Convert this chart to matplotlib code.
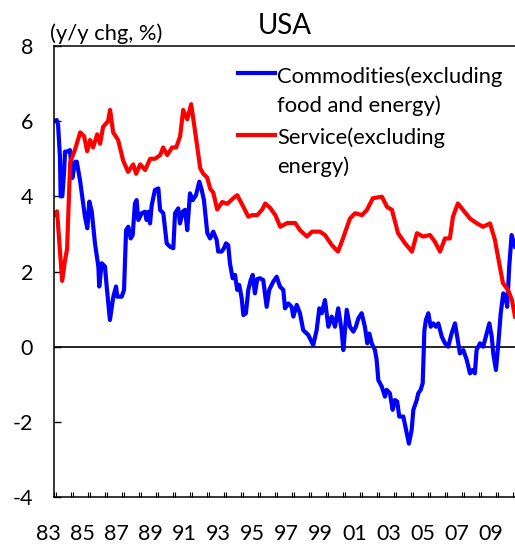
import matplotlib
matplotlib.use("Agg")
import matplotlib.pyplot as plt

plt.rcParams['font.family'] = ['Lato', 'DejaVu Sans']
plt.rcParams['axes.unicode_minus'] = False

# commodities (excluding food and energy), y/y %
comm_year = [1983.00, 1983.16, 1983.24, 1983.35, 1983.39, 1983.49, 1983.59, 1983.65, 1983.78, 1983.94,
             1984.08, 1984.24, 1984.34, 1984.53, 1984.82, 1984.96, 1985.08, 1985.22, 1985.41, 1985.61,
             1985.66, 1985.81, 1986.00, 1986.10, 1986.29, 1986.49, 1986.65, 1986.72, 1986.98, 1987.12,
             1987.24, 1987.37, 1987.51, 1987.63, 1987.76, 1987.86, 1987.96, 1988.16, 1988.35, 1988.45,
             1988.55, 1988.65, 1988.75, 1988.94, 1989.14, 1989.24, 1989.43, 1989.63, 1989.82, 1990.02,
             1990.12, 1990.31, 1990.41, 1990.57, 1990.71, 1990.84, 1991.00, 1991.16, 1991.35, 1991.55,
             1991.69, 1991.82, 1992.02, 1992.18, 1992.37, 1992.57, 1992.66, 1992.86, 1993.00, 1993.12,
             1993.25, 1993.35, 1993.51, 1993.65, 1993.78, 1993.90, 1994.04, 1994.14, 1994.29, 1994.43,
             1994.57, 1994.69, 1994.82, 1994.96, 1995.12, 1995.31, 1995.51, 1995.66, 1995.90, 1996.10,
             1996.29, 1996.49, 1996.59, 1996.78, 1996.98, 1997.08, 1997.28, 1997.47, 1997.66, 1997.96,
             1998.25, 1998.45, 1998.61, 1998.75, 1998.94, 1999.14, 1999.34, 1999.53, 1999.72, 1999.92,
             2000.02, 2000.22, 2000.41, 2000.61, 2000.76, 2000.90, 2001.10, 2001.29, 2001.43, 2001.55,
             2001.69, 2001.88, 2001.98, 2002.08, 2002.28, 2002.47, 2002.57, 2002.76, 2002.92, 2003.06,
             2003.19, 2003.31, 2003.55, 2003.75, 2003.88, 2004.04, 2004.14, 2004.34, 2004.43, 2004.57,
             2004.69, 2004.79, 2004.88, 2005.02, 2005.16, 2005.31, 2005.47, 2005.61, 2005.81, 2006.00,
             2006.19, 2006.39, 2006.59, 2006.88, 2007.08, 2007.28, 2007.47, 2007.63, 2007.76, 2007.86,
             2008.06, 2008.25, 2008.45, 2008.61, 2008.75, 2008.84, 2009.00, 2009.14, 2009.28, 2009.43,
             2009.59, 2009.66, 2009.78, 2009.92, 2010.12]
comm_val = [6.00, 6.03, 5.90, 5.05, 4.00, 4.00, 4.62, 5.19, 5.19, 5.23,
            4.49, 4.92, 4.92, 4.43, 3.46, 3.15, 3.86, 3.60, 2.75, 2.13,
            1.60, 2.22, 2.13, 1.60, 0.71, 1.33, 1.60, 1.33, 1.33, 1.51,
            3.10, 3.19, 2.88, 2.97, 3.81, 3.90, 3.37, 3.55, 3.59, 3.37,
            3.59, 3.28, 3.77, 4.17, 4.21, 3.64, 3.55, 2.75, 2.66, 2.62,
            3.55, 3.68, 3.28, 3.59, 3.64, 3.10, 4.08, 3.90, 4.03, 4.39,
            4.17, 3.90, 3.02, 2.88, 3.06, 2.84, 2.53, 2.53, 2.62, 2.75,
            2.70, 2.22, 1.82, 1.91, 1.51, 1.64, 1.29, 0.84, 0.89, 1.51,
            1.77, 1.91, 1.42, 1.80, 1.82, 1.77, 1.06, 1.51, 1.73, 1.86,
            1.60, 1.51, 1.02, 1.15, 1.06, 0.80, 1.11, 0.89, 0.44, 0.31,
            0.04, 0.44, 1.02, 0.89, 1.24, 0.53, 0.80, 0.53, 1.02, 0.44,
            -0.09, 0.98, 0.53, 0.40, 0.53, 0.75, 0.89, 0.53, 0.09, 0.35,
            0.09, -0.09, -0.35, -0.89, -1.06, -1.33, -1.15, -1.24, -1.68, -1.42,
            -1.46, -1.86, -1.86, -2.30, -2.58, -2.22, -1.68, -1.42, -1.24, -1.15,
            -0.97, 0.44, 0.71, 0.89, 0.53, 0.62, 0.53, 0.62, 0.27, 0.09,
            0.00, 0.35, 0.62, -0.18, -0.09, -0.35, -0.71, -0.62, -0.71, -0.09,
            0.09, 0.00, 0.35, 0.62, 0.27, -0.18, -0.62, 0.09, 0.89, 1.42,
            1.24, 1.06, 2.13, 2.97, 2.66]

# services (excluding energy), y/y %
serv_year = [1983.00, 1983.18, 1983.48, 1983.65, 1983.77, 1983.95, 1984.24, 1984.54, 1984.77, 1984.95,
             1985.12, 1985.30, 1985.54, 1985.71, 1985.89, 1986.18, 1986.30, 1986.48, 1986.77, 1987.07,
             1987.36, 1987.66, 1987.83, 1988.07, 1988.36, 1988.66, 1988.95, 1989.25, 1989.42, 1989.66,
             1989.95, 1990.19, 1990.42, 1990.60, 1990.84, 1991.07, 1991.31, 1991.60, 1991.78, 1992.01,
             1992.19, 1992.37, 1992.60, 1992.90, 1993.19, 1993.55, 1993.78, 1994.14, 1994.43, 1994.66,
             1994.96, 1995.25, 1995.43, 1995.72, 1996.02, 1996.31, 1996.72, 1997.19, 1997.47, 1997.88,
             1998.18, 1998.65, 1998.94, 1999.35, 1999.71, 2000.00, 2000.41, 2000.71, 2001.12, 2001.41,
             2001.76, 2002.29, 2002.59, 2002.88, 2003.24, 2003.65, 2004.06, 2004.35, 2004.71, 2005.12,
             2005.41, 2005.71, 2006.00, 2006.29, 2006.47, 2006.76, 2007.06, 2007.47, 2007.88, 2008.24,
             2008.65, 2008.94, 2009.12, 2009.41, 2009.71, 2009.94, 2010.12]
serv_val = [3.50, 3.60, 1.75, 2.30, 2.60, 4.90, 5.25, 5.70, 5.60, 5.20,
            5.50, 5.30, 5.65, 5.40, 5.85, 6.00, 6.30, 5.70, 5.50, 4.95,
            4.65, 4.85, 4.60, 4.85, 4.70, 5.00, 5.00, 5.10, 5.30, 5.10,
            5.30, 5.30, 5.60, 6.30, 6.05, 6.45, 5.70, 4.75, 4.60, 4.50,
            4.20, 4.10, 3.65, 3.85, 3.80, 3.95, 4.03, 3.72, 3.46, 3.50,
            3.50, 3.65, 3.81, 3.69, 3.50, 3.19, 3.29, 3.29, 3.10, 2.93,
            3.06, 3.06, 2.97, 2.70, 2.53, 2.88, 3.41, 3.55, 3.50, 3.64,
            3.95, 3.99, 3.72, 3.64, 3.02, 2.75, 2.53, 3.02, 2.93, 2.97,
            2.79, 2.53, 2.88, 2.88, 3.46, 3.81, 3.64, 3.41, 3.28, 3.19,
            3.28, 2.84, 2.39, 1.69, 1.51, 1.24, 0.80]

year_ticks = list(range(1983, 2011))
year_labels = ['83', '85', '87', '89', '91', '93', '95', '97', '99', '01', '03', '05', '07', '09']
label_years = list(range(1983, 2010, 2))
y_ticks = [-4, -2, 0, 2, 4, 6, 8]

fig = plt.figure(figsize=(5.15, 5.48), dpi=100)
ax = fig.add_axes([54 / 515, 1 - 497 / 548, 461 / 515, 451 / 548])

ax.plot(comm_year, comm_val, color='#0000ff', lw=3.0, solid_joinstyle='round')
ax.plot(serv_year, serv_val, color='#ff0000', lw=3.0, solid_joinstyle='round')
ax.axhline(0, color='black', lw=1.2, zorder=1)

ax.set_xlim(1983.0, 2010.12)
ax.set_ylim(-4, 8)
ax.set_yticks(y_ticks)
ax.set_xticks(year_ticks)
ax.set_xticks([y + 0.1 for y in year_ticks], minor=True)
ax.set_xticklabels([])
ax.tick_params(axis='y', direction='in', length=5, width=1, pad=15, labelsize=15.5)
ax.tick_params(axis='x', which='both', direction='in', length=3.5, width=0.8)

for yr, lab in zip(label_years, year_labels):
    ax.annotate(lab, xy=(yr - 0.33, 0), xycoords=('data', 'axes fraction'),
                xytext=(0, -27), textcoords='offset points',
                ha='center', va='center', fontsize=15.5, annotation_clip=False)

for side in ['left', 'bottom', 'top']:
    ax.spines[side].set_linewidth(1.1)
ax.spines['right'].set_visible(False)

ax.set_title('USA', fontsize=20, pad=9)
fig.text(50 / 515, 1 - 40 / 548, '(y/y chg, %)', fontsize=15.8, ha='left', va='baseline')

# legend drawn by hand so the key sits on the first text line
ax.plot([0.399, 0.479], [0.940, 0.940], color='#0000ff', lw=3.0, transform=ax.transAxes, clip_on=False)
ax.plot([0.399, 0.479], [0.802, 0.802], color='#ff0000', lw=3.0, transform=ax.transAxes, clip_on=False)
leg_lines = [('Commodities(excluding', 83), ('food and energy)', 112.5),
             ('Service(excluding', 144), ('energy)', 173)]
for txt, base in leg_lines:
    fig.text(277 / 515, 1 - base / 548, txt, fontsize=15.8, ha='left', va='baseline')

plt.savefig('out.png', dpi=100)
